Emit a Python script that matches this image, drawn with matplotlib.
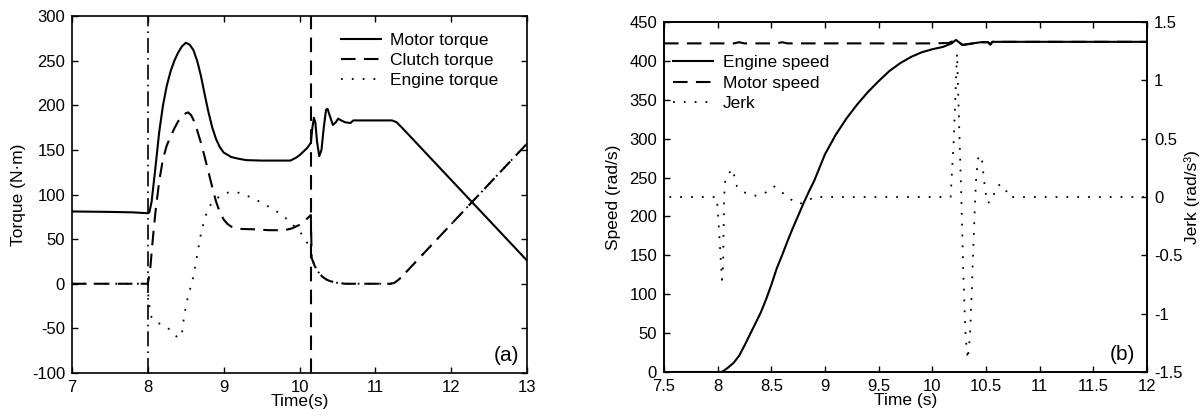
import numpy as np
import matplotlib
matplotlib.use("Agg")
import matplotlib.pyplot as plt

plt.rcParams['font.family'] = ['Liberation Sans', 'DejaVu Sans']
plt.rcParams['axes.unicode_minus'] = False

# ---- (a) torque data ----
motor_t = [7.0, 7.5, 7.8, 8.0, 8.02, 8.05, 8.1, 8.15, 8.2, 8.25, 8.3, 8.35, 8.4, 8.45,
           8.5, 8.55, 8.6, 8.65, 8.7, 8.75, 8.8, 8.85, 8.9, 8.95, 9.0, 9.1, 9.2, 9.3,
           9.5, 9.7, 9.88, 9.95, 10.0, 10.05, 10.1, 10.15, 10.17, 10.19, 10.21, 10.23,
           10.26, 10.29, 10.32, 10.35, 10.37, 10.4, 10.44, 10.48, 10.51, 10.55, 10.6,
           10.67, 10.71, 11.22, 11.28, 11.35, 11.45, 13.0]
motor_tq = [81, 80.5, 80, 79, 80, 92, 130, 170, 200, 222, 238, 250, 259, 266,
            270, 268, 262, 250, 233, 212, 192, 175, 162, 153, 147, 142, 140, 138.5,
            138, 138, 138, 141, 144, 148, 152, 158, 175, 186, 180, 160,
            143, 150, 175, 195, 196, 188, 178, 181, 185, 183, 181,
            180, 183, 183, 181, 175, 166, 26]

clutch_t = [7.0, 8.0, 8.03, 8.06, 8.1, 8.15, 8.2, 8.25, 8.3, 8.35, 8.4, 8.45, 8.5, 8.53,
            8.57, 8.6, 8.65, 8.7, 8.75, 8.8, 8.85, 8.9, 8.95, 9.0, 9.05, 9.1, 9.2, 9.4,
            9.6, 9.8, 9.9, 10.0, 10.05, 10.1, 10.15, 10.16, 10.2, 10.25, 10.3, 10.35,
            10.4, 10.5, 10.6, 11.2, 11.25, 11.3, 11.35, 13.0]
clutch_tq = [0, 0, 15, 45, 80, 115, 140, 155, 165, 174, 182, 187, 191, 192,
             189, 184, 172, 158, 142, 125, 108, 92, 80, 72, 67, 64, 61.5, 61,
             60, 60, 62, 66, 69, 73, 77, 29, 20, 13, 8, 5,
             3, 1, 0, 0, 1, 4, 8, 157]

engine_t = [7.0, 8.0, 8.01, 8.05, 8.1, 8.2, 8.3, 8.4, 8.45, 8.48, 8.52, 8.56, 8.6, 8.65,
            8.7, 8.75, 8.8, 8.85, 8.9, 9.0, 9.1, 9.2, 9.3, 9.4, 9.5, 9.6, 9.7, 9.8,
            9.9, 10.0, 10.05, 10.1, 10.15, 10.16, 10.2, 10.25, 10.3, 10.35,
            10.4, 10.5, 10.6, 11.2, 11.25, 11.3, 11.35, 13.0]
engine_tq = [0, 0, -20, -38, -43, -46, -52, -61, -56, -35, -18, -5, 8, 32,
             56, 73, 85, 91, 95, 101, 103, 102, 99, 95, 91, 86, 81, 75,
             67, 59, 53, 46, 38, 29, 20, 13, 8, 5,
             3, 1, 0, 0, 1, 4, 8, 157]

phase_times = [8.0, 10.15]

# ---- (b) speed / jerk data ----
eng_spd_t = [7.5, 8.03, 8.05, 8.1, 8.15, 8.2, 8.25, 8.3, 8.35, 8.4, 8.45, 8.5, 8.55,
             8.6, 8.65, 8.7, 8.75, 8.8, 8.85, 8.9, 8.95, 9.0, 9.1, 9.2, 9.3, 9.4,
             9.5, 9.6, 9.7, 9.8, 9.9, 10.0, 10.1, 10.18, 10.22, 10.28, 10.33,
             10.45, 10.52, 10.54, 10.56, 12.0]
eng_spd = [0, 0, 1, 6, 12, 21, 34, 48, 62, 76, 93, 112, 133,
           150, 168, 185, 201, 217, 232, 246, 263, 280, 305, 326, 344, 360,
           374, 387, 397, 405, 411, 415, 418, 422.5, 427, 420.5, 421.5,
           424, 424, 421, 424.5, 424.5]

mot_spd_t = [7.5, 8.15, 8.2, 8.25, 8.55, 8.6, 8.65, 10.0, 10.15, 10.22, 10.28, 10.33,
             10.45, 10.52, 10.54, 10.56, 12.0]
mot_spd = [422.5, 422.5, 424, 422.5, 422.5, 424, 422.5, 422.5, 423, 427, 420.5, 421.5,
           424, 424, 421, 424.5, 424.5]

jerk_t = [7.55, 7.99, 8.0, 8.02, 8.04, 8.05, 8.055, 8.06, 8.07, 8.09, 8.12, 8.14, 8.16,
          8.18, 8.23, 8.27, 8.36, 8.45, 8.48, 8.53, 8.6, 8.68, 8.76, 8.84, 8.9,
          10.17, 10.2, 10.23, 10.25, 10.27, 10.29, 10.31, 10.33, 10.35, 10.37, 10.385,
          10.4, 10.41, 10.43, 10.46, 10.47, 10.49, 10.51, 10.55, 10.6, 10.64, 10.69,
          10.71, 12.0]
jerk = [0, 0, -0.1, -0.4, -0.71, -0.6, -0.3, 0.0, 0.13, 0.19, 0.22, 0.24, 0.16,
        0.09, 0.05, 0.03, 0.01, 0.04, 0.07, 0.09, 0.04, -0.02, -0.06, -0.03, 0,
        0, 0.5, 1.23, 0.6, 0, -0.7, -1.2, -1.39, -1.2, -0.75, -0.35,
        0, 0.19, 0.35, 0.35, 0.25, 0.08, -0.05, -0.04, 0.09, 0.11, 0.05,
        0, 0]

W, H = 1204, 416
fig = plt.figure(figsize=(W / 100, H / 100), dpi=100)

TICK_FS = 12
LAB_FS = 12.5
LEG_FS = 12.5

def box(l, t, r, b):
    return [l / W, 1 - b / H, (r - l) / W, (b - t) / H]

def style(ax, right=True):
    for s in ax.spines.values():
        s.set_linewidth(1.2)
    ax.tick_params(direction='in', length=4, width=1, top=True, right=right,
                   labelsize=TICK_FS, pad=5)

solid = dict(color='black', lw=1.5, ls='-')
dashed = dict(color='black', lw=1.5, ls=(0, (7, 4)))
dotted = dict(color='black', lw=1.3, ls=(0, (1, 5)))
leg_kw = dict(frameon=False, fontsize=LEG_FS, handlelength=2.3, handletextpad=0.55,
              labelspacing=0.3, borderpad=0, borderaxespad=0)

# ---- panel (a) ----
ax1 = fig.add_axes(box(72, 16, 527, 373))
ax1.plot(motor_t, motor_tq, label='Motor torque', **solid)
ax1.plot(clutch_t, clutch_tq, label='Clutch torque', **dashed)
ax1.plot(engine_t, engine_tq, label='Engine torque', **dotted)
ax1.axvline(phase_times[0], color='black', lw=1.2, ls=(0, (9, 3, 1, 3)))
ax1.axvline(phase_times[1], color='black', lw=1.5, ls=(0, (7, 4)))
ax1.set_xlim(7, 13)
ax1.set_ylim(-100, 300)
ax1.set_xticks(np.arange(7, 14, 1))
ax1.set_yticks(np.arange(-100, 301, 50))
style(ax1)
ax1.set_xlabel('Time(s)', fontsize=LAB_FS, labelpad=-1)
ax1.set_ylabel('Torque (N·m)', fontsize=LAB_FS)
ax1.yaxis.set_label_coords(-0.101, 0.5)
ax1.legend(loc='upper left', bbox_to_anchor=(0.591, 0.9535), **leg_kw)
ax1.text(0.956, 0.05, '(a)', transform=ax1.transAxes, fontsize=15,
         ha='center', va='center')

# ---- panel (b) ----
ax2 = fig.add_axes(box(664, 22, 1147, 372))
l1, = ax2.plot(eng_spd_t, eng_spd, label='Engine speed', **solid)
l2, = ax2.plot(mot_spd_t, mot_spd, label='Motor speed', **dashed)
ax2.set_xlim(7.5, 12)
ax2.set_ylim(0, 450)
ax2.set_xticks(np.arange(7.5, 12.01, 0.5))
ax2.set_xticklabels(['7.5', '8', '8.5', '9', '9.5', '10', '10.5', '11', '11.5', '12'])
ax2.set_yticks(np.arange(0, 451, 50))
style(ax2, right=False)
ax2.set_xlabel('Time (s)', fontsize=LAB_FS, labelpad=-1)
ax2.set_ylabel('Speed (rad/s)', fontsize=LAB_FS)
ax2.yaxis.set_label_coords(-0.089, 0.5)

ax3 = ax2.twinx()
l3, = ax3.plot(jerk_t, jerk, label='Jerk', **dotted)
ax3.set_ylim(-1.5, 1.5)
ax3.set_yticks(np.arange(-1.5, 1.51, 0.5))
ax3.set_yticklabels(['-1.5', '-1', '-0.5', '0', '0.5', '1', '1.5'])
ax3.tick_params(direction='in', length=4, width=1, labelsize=TICK_FS, pad=5)
ax3.set_ylabel('Jerk (rad/s³)', fontsize=LAB_FS)
ax3.yaxis.set_label_coords(1.077, 0.5)
for s in ax3.spines.values():
    s.set_linewidth(1.2)

ax3.legend([l1, l2, l3], ['Engine speed', 'Motor speed', 'Jerk'], loc='upper left',
           bbox_to_anchor=(0.019, 0.905), **leg_kw)
ax3.text(0.95, 0.049, '(b)', transform=ax3.transAxes, fontsize=15,
         ha='center', va='center')

fig.savefig('out.png', dpi=100)
